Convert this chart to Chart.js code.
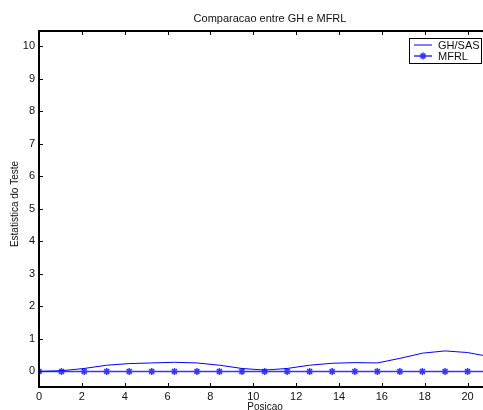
<!DOCTYPE html>
<html>
<head>
    <title>Comparacao entre GH e MFRL</title>
    <style>
        html, body { margin: 0; padding: 0; background: #fff; }
        #wrap { width: 483px; height: 410px; }
    </style>
</head>
<body>
    <div id="wrap"><canvas id="myChart" width="483" height="410"></canvas></div>
</body>
<script src="https://cdn.jsdelivr.net/npm/chart.js"></script>
<script>
    // data
    const posicao = [0, 1.05, 2.11, 3.16, 4.21, 5.26, 6.32, 7.37, 8.42, 9.47, 10.53,
                     11.58, 12.63, 13.68, 14.74, 15.79, 16.84, 17.89, 18.95, 20.0, 21.05];
    const ghSas = [0, 0.02, 0.09, 0.19, 0.24, 0.26, 0.28, 0.26, 0.19, 0.09, 0.04,
                   0.09, 0.19, 0.25, 0.27, 0.26, 0.40, 0.56, 0.63, 0.58, 0.45];
    const mfrl = [0, 0, 0, 0, 0, 0, 0, 0, 0, 0, 0,
                  0, 0, 0, 0, 0, 0, 0, 0, 0, 0];
    const xTicks = [0, 2, 4, 6, 8, 10, 12, 14, 16, 18, 20];
    const yTicks = [0, 1, 2, 3, 4, 5, 6, 7, 8, 9, 10];
    const seriesNames = ["GH/SAS", "MFRL"];

    const FONT = "Liberation Sans, Arial, Helvetica, sans-serif";

    function toPoints(xs, ys){
        return xs.map((x, i) => ({x: x, y: ys[i]}));
    }

    // frame, inward ticks, titles and legend (MATLAB look)
    const matlabAxes = {
        id: "matlabAxes",
        afterDraw(chart){
            const ctx = chart.ctx;
            const a = chart.chartArea;
            const xs = chart.scales.x, ys = chart.scales.y;
            ctx.save();
            ctx.strokeStyle = "#000";
            ctx.lineWidth = 2;
            ctx.beginPath();
            ctx.moveTo(a.right + 2, a.top);
            ctx.lineTo(a.left, a.top);
            ctx.lineTo(a.left, a.bottom);
            ctx.lineTo(a.right + 2, a.bottom);
            ctx.stroke();

            ctx.lineWidth = 1;
            ctx.beginPath();
            xTicks.forEach(v => {
                const px = Math.round(xs.getPixelForValue(v)) + 0.5;
                ctx.moveTo(px, a.bottom); ctx.lineTo(px, a.bottom - 4);
                ctx.moveTo(px, a.top); ctx.lineTo(px, a.top + 4);
            });
            yTicks.forEach(v => {
                const py = Math.round(ys.getPixelForValue(v)) + 0.5;
                ctx.moveTo(a.left, py); ctx.lineTo(a.left + 4, py);
            });
            ctx.stroke();

            ctx.fillStyle = "#111";
            ctx.font = "11px " + FONT;
            ctx.textAlign = "center";
            ctx.textBaseline = "middle";
            ctx.fillText("Comparacao entre GH e MFRL", 270, 19);
            ctx.font = "10px " + FONT;
            ctx.fillText("Posicao", 265, 407);
            ctx.translate(15, 204);
            ctx.rotate(-Math.PI / 2);
            ctx.fillText("Estatistica do Teste", 0, 0);
            ctx.restore();

            // legend
            ctx.save();
            const bx = 409, by = 38, bw = 72, bh = 25;
            ctx.fillStyle = "#fff";
            ctx.fillRect(bx, by, bw, bh);
            ctx.strokeStyle = "#000";
            ctx.lineWidth = 1;
            ctx.strokeRect(bx + 0.5, by + 0.5, bw, bh);
            chart.data.datasets.forEach((ds, i) => {
                const ly = by + 7 + i * 11;
                ctx.strokeStyle = ds.borderColor;
                ctx.lineWidth = ds.borderWidth;
                ctx.beginPath();
                ctx.moveTo(bx + 5, ly); ctx.lineTo(bx + 23, ly);
                ctx.stroke();
                if (ds.pointRadius > 0){
                    Chart.helpers.drawPoint(ctx, {pointStyle: ds.pointStyle, radius: ds.pointRadius, borderWidth: 1.5}, bx + 14, ly);
                }
                ctx.fillStyle = "#111";
                ctx.font = "11px " + FONT;
                ctx.textAlign = "left";
                ctx.textBaseline = "middle";
                ctx.fillText(ds.label, bx + 29, ly + 0.5);
            });
            ctx.restore();
        }
    };

    const data = {
        datasets: [{
            label: seriesNames[0],
            data: toPoints(posicao, ghSas),
            borderColor: "#0000ff",
            backgroundColor: "#0000ff",
            borderWidth: 1,
            pointRadius: 0,
            tension: 0
        }, {
            label: seriesNames[1],
            data: toPoints(posicao, mfrl),
            borderColor: "#3535ff",
            backgroundColor: "#0000ff",
            borderWidth: 1.5,
            pointStyle: "star",
            pointRadius: 3.5,
            pointBorderWidth: 1.5,
            tension: 0
        }]
    };

    const config = {
        type: "line",
        data,
        plugins: [matlabAxes],
        options: {
            responsive: false,
            animation: false,
            events: [],
            layout: { autoPadding: false, padding: { top: 31, left: 0, right: 0, bottom: 0 } },
            plugins: {
                legend: { display: false },
                title: { display: false },
                tooltip: { enabled: false }
            },
            scales: {
                x: {
                    type: "linear",
                    min: 0,
                    max: 20.72,
                    border: { display: false },
                    grid: { display: false, drawTicks: false },
                    afterBuildTicks: s => { s.ticks = xTicks.map(v => ({value: v})); },
                    afterFit: s => { s.height = 23; s.paddingLeft = 0; s.paddingRight = 0; },
                    ticks: { color: "#111", font: { family: FONT, size: 11 }, padding: 3, maxRotation: 0 }
                },
                y: {
                    type: "linear",
                    min: -0.48,
                    max: 10.47,
                    border: { display: false },
                    grid: { display: false, drawTicks: false },
                    afterBuildTicks: s => { s.ticks = yTicks.map(v => ({value: v})); },
                    afterFit: s => { s.width = 39; s.paddingTop = 0; s.paddingBottom = 0; },
                    ticks: { color: "#111", font: { family: FONT, size: 11 }, padding: 4 }
                }
            }
        }
    };

    let myChart = new Chart(document.getElementById("myChart"), config);
</script>
</html>
